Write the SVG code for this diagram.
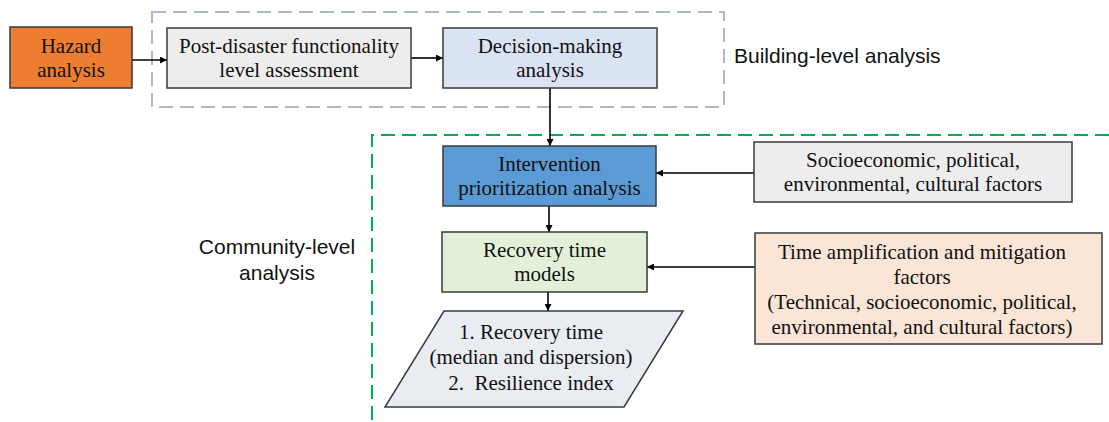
<svg xmlns="http://www.w3.org/2000/svg" width="1109" height="422" viewBox="0 0 1109 422">
  <defs>
    <marker id="arrow" viewBox="0 0 10 10" refX="10" refY="5" markerWidth="7" markerHeight="7" markerUnits="userSpaceOnUse" orient="auto">
      <path d="M0,0 L10,5 L0,10 z" fill="#000"/>
    </marker>
    <style>
      .box { stroke: #3a3a3a; stroke-width: 1.5; }
      .t { font-family: "Liberation Serif", "Times New Roman", serif; font-size: 21px; fill: #111; text-anchor: middle; }
      .s { font-family: "Liberation Sans", Arial, sans-serif; font-size: 21px; fill: #111; }
      .conn { stroke: #000; stroke-width: 1.6; fill: none; marker-end: url(#arrow); }
      .zone-bld { fill: none; stroke: #ADB9CA; stroke-width: 2; stroke-dasharray: 14 7; }
      .zone-com { fill: none; stroke: #00B050; stroke-width: 2; stroke-dasharray: 14 7; }
    </style>
  </defs>

  <rect width="1109" height="422" fill="#fff"/>

  <!-- analysis scope frames -->
  <g id="zones">
    <rect class="zone-bld" x="152" y="12" width="572" height="95"/>
    <path class="zone-com" d="M1109,135 H372 V422"/>
    <text class="s" x="734" y="63">Building-level analysis</text>
    <text class="s" x="277" y="254" text-anchor="middle">Community-level</text>
    <text class="s" x="277" y="280" text-anchor="middle">analysis</text>
  </g>

  <g id="connectors">
    <line class="conn" x1="132" y1="60" x2="167" y2="60"/>
    <line class="conn" x1="411" y1="58" x2="443" y2="58"/>
    <line class="conn" x1="550" y1="88" x2="550" y2="146"/>
    <line class="conn" x1="754" y1="173" x2="656" y2="173"/>
    <line class="conn" x1="549" y1="206" x2="549" y2="232"/>
    <line class="conn" x1="755" y1="267" x2="647" y2="267"/>
    <line class="conn" x1="548" y1="292" x2="548" y2="311"/>
  </g>

  <g id="hazard">
    <rect class="box" x="10" y="27" width="122" height="61" fill="#ED7D31"/>
    <text class="t" x="71" y="53">Hazard</text>
    <text class="t" x="71" y="77">analysis</text>
  </g>

  <g id="functionality">
    <rect class="box" x="167" y="28" width="244" height="60" fill="#EDEDED"/>
    <text class="t" x="289" y="53">Post-disaster functionality</text>
    <text class="t" x="289" y="77">level assessment</text>
  </g>

  <g id="decision">
    <rect class="box" x="443" y="28" width="214" height="60" fill="#DAE3F3"/>
    <text class="t" x="550" y="53">Decision-making</text>
    <text class="t" x="550" y="77">analysis</text>
  </g>

  <g id="intervention">
    <rect class="box" x="443" y="146" width="213" height="60" fill="#5B9BD5"/>
    <text class="t" x="549.5" y="171">Intervention</text>
    <text class="t" x="549.5" y="195">prioritization analysis</text>
  </g>

  <g id="socio-factors">
    <rect class="box" x="754" y="142" width="318" height="60" fill="#EDEDED"/>
    <text class="t" x="913" y="167">Socioeconomic, political,</text>
    <text class="t" x="913" y="191">environmental, cultural factors</text>
  </g>

  <g id="recovery-models">
    <rect class="box" x="442" y="232" width="205" height="60" fill="#E2F0D9"/>
    <text class="t" x="544.5" y="257">Recovery time</text>
    <text class="t" x="544.5" y="281">models</text>
  </g>

  <g id="time-factors">
    <rect class="box" x="755" y="233" width="347" height="111" fill="#FBE5D6"/>
    <text class="t" x="922" y="259">Time amplification and mitigation</text>
    <text class="t" x="922" y="284">factors</text>
    <text class="t" x="922" y="309">(Technical, socioeconomic, political,</text>
    <text class="t" x="922" y="334">environmental, and cultural factors)</text>
  </g>

  <g id="outputs">
    <polygon class="box" points="444,311 683,311 624,407 385,407" fill="#E9ECF1"/>
    <text class="t" x="531" y="339">1. Recovery time</text>
    <text class="t" x="531" y="364">(median and dispersion)</text>
    <text class="t" x="531" y="390" xml:space="preserve">2.  Resilience index</text>
  </g>
</svg>
